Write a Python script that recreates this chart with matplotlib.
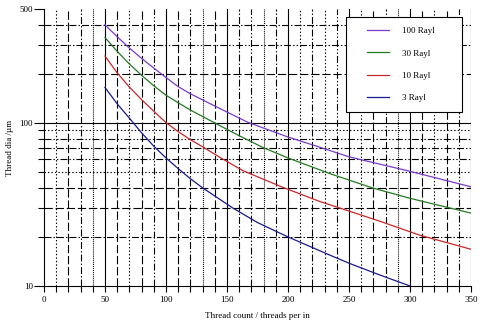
import matplotlib
matplotlib.use('Agg')
import matplotlib.pyplot as plt
from matplotlib.ticker import FixedLocator, NullFormatter, FixedFormatter
from matplotlib.patches import Rectangle

plt.rcParams['font.family'] = ['Liberation Serif', 'DejaVu Serif']
plt.rcParams['lines.scale_dashes'] = False

# curves (thread count, thread dia)
x100 = [50, 60, 70, 80, 90, 100, 110, 120, 140, 167, 200, 226, 250, 300, 350]
y100 = [400, 338, 288, 249, 217, 190, 167, 151, 127, 101, 82, 71, 62, 50.5, 40.6]
x30 = [50, 60, 70, 80, 90, 100, 110, 120, 140, 160, 179, 200, 234, 269, 300, 350]
y30 = [334, 275, 230, 196, 169, 148, 133, 120, 100, 83.5, 71, 61, 49, 40, 34.5, 28]
x10 = [50, 60, 70, 80, 90, 100, 110, 120, 132, 145, 163, 195, 226, 240, 275, 308, 350]
y10 = [257, 203, 166, 139, 118, 100.5, 88.5, 79, 70, 61, 51, 40.5, 33, 30.5, 25, 20.5, 16.8]
x3 = [50, 60, 70, 80, 90, 100, 110, 120, 130, 155, 175, 200, 234, 250, 275, 300]
y3 = [165, 131, 107, 87, 72, 61, 52.5, 45.5, 40, 30, 24.5, 20, 15.5, 13.8, 11.7, 10]

labels = ['100 Rayl', '30 Rayl', '10 Rayl', '3 Rayl']
colors = ['#7a3cc8', '#237a23', '#c82828', '#1a1a8c']

xticks = [0, 50, 100, 150, 200, 250, 300, 350]
ymajor = [10, 100, 500]
yminor = [20, 30, 40, 50, 60, 70, 80, 90, 200, 300, 400]

styles = {
    'solid': '-',
    'dot': (0, (1, 1.5)),
    'dense': (0, (0.7, 0.7)),
    'dash': (0, (6, 2)),
    'dashdot': (0, (5, 1.5, 1, 1.5)),
    'dashdotdot': (0, (5, 1.5, 1, 1.5, 1, 1.5)),
}
vcycle = ['dot', 'dash', 'dashdot', 'dense',
          'dash', 'dot', 'dash', 'dashdotdot',
          'dash', 'dashdot', 'dense', 'dash',
          'dashdot', 'dashdotdot', 'dense', 'dashdot',
          'dot', 'dashdot', 'dot', 'dashdotdot']
hstyle = {20: 'dashdot', 30: 'dash', 40: 'dash', 50: 'dot', 60: 'dashdotdot',
          70: 'dashdot', 80: 'dashdotdot', 90: 'dot', 100: 'solid',
          200: 'dash', 300: 'dashdotdot', 400: 'dashdot'}

fig = plt.figure(figsize=(4.82, 3.25), dpi=100)
ax = fig.add_axes([44 / 482, 1 - 286 / 325, 427 / 482, 277 / 325])
ax.set_yscale('log')
ax.set_xlim(0, 350)
ax.set_ylim(10, 500)

# grid
k = 0
for v in range(10, 351, 10):
    if v % 50 == 0:
        ls = styles['solid']
    else:
        ls = styles[vcycle[k % len(vcycle)]]
        k += 1
    ax.axvline(v, color='black', lw=0.8, linestyle=ls, zorder=1)
for h, s in hstyle.items():
    ax.axhline(h, color='black', lw=0.8, linestyle=styles[s], zorder=1)

for xs, ys, c, lab in zip([x100, x30, x10, x3], [y100, y30, y10, y3], colors, labels):
    ax.plot(xs, ys, color=c, lw=0.9, label=lab, zorder=3)

ax.xaxis.set_major_locator(FixedLocator(xticks))
ax.xaxis.set_minor_locator(FixedLocator(list(range(0, 351, 10))))
ax.yaxis.set_major_locator(FixedLocator(ymajor))
ax.yaxis.set_major_formatter(FixedFormatter(['10', '100', '500']))
ax.yaxis.set_minor_locator(FixedLocator(yminor))
ax.yaxis.set_minor_formatter(NullFormatter())
ax.tick_params(axis='x', which='both', direction='out', length=4, width=0.8, labelsize=6.5, pad=3)
ax.tick_params(axis='y', which='major', direction='out', length=7, width=0.8, labelsize=6.5, pad=1)
ax.tick_params(axis='y', which='minor', direction='out', length=4, width=0.8)

for side in ['top', 'right']:
    ax.spines[side].set_visible(False)
for side in ['left', 'bottom']:
    ax.spines[side].set_linewidth(0.8)

ax.set_xlabel('Thread count / threads per in', fontsize=6.5, labelpad=6)
ax.set_ylabel('Thread dia /µm', fontsize=6.5, labelpad=4)

# legend box
box = Rectangle((346 / 482, 1 - 112 / 325), 116 / 482, 95 / 325, transform=fig.transFigure,
                facecolor='white', edgecolor='black', lw=0.8, zorder=5, clip_on=False)
ax.add_patch(box)
leg = ax.legend(loc='center', bbox_to_anchor=(401 / 482, 1 - 64.5 / 325),
                bbox_transform=fig.transFigure, frameon=False, fontsize=6.5,
                handlelength=2.4, handletextpad=1.4, labelspacing=1.55)
leg.set_zorder(6)

fig.savefig('out.png', dpi=100)
